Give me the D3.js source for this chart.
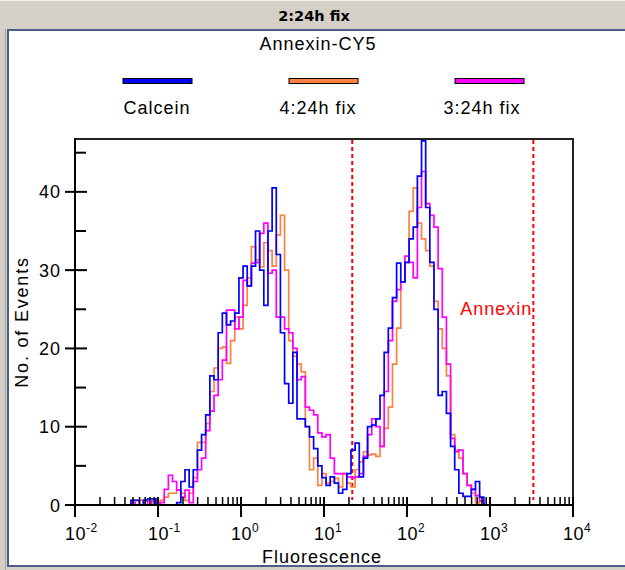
<!DOCTYPE html>
<html><head><meta charset="utf-8">
<script src="https://cdn.jsdelivr.net/npm/d3@7/dist/d3.min.js"></script>
<style>html,body{margin:0;padding:0;background:#d4d0c8;overflow:hidden}svg{display:block}</style>
</head><body><svg id="c" width="625" height="570"></svg>
<script>
// ---- data ----
const binExp = [-1.45,-1.40,-1.35,-1.30,-1.25,-1.20,-1.15,-1.10,-1.05,-1.00,
  -0.95,-0.90,-0.85,-0.80,-0.75,-0.70,-0.65,-0.60,-0.55,-0.50,
  -0.45,-0.40,-0.35,-0.30,-0.25,-0.20,-0.15,-0.10,-0.05,0.00,
  0.05,0.10,0.15,0.20,0.25,0.30,0.35,0.40,0.45,0.50,
  0.55,0.60,0.65,0.70,0.75,0.80,0.85,0.90,0.95,1.00,
  1.05,1.10,1.15,1.20,1.25,1.30,1.35,1.40,1.45,1.50,
  1.55,1.60,1.65,1.70,1.75,1.80,1.85,1.90,1.95,2.00,
  2.05,2.10,2.15,2.20,2.25,2.30,2.35,2.40,2.45,2.50,
  2.55,2.60,2.65,2.70,2.75,2.80,2.85,2.90,2.95];
const calcein = [0,0,0,0.6,0.6,0,0.6,0.8,0.8,0,
  0,0,0,0,0.3,3.0,4.5,2.3,4.5,7.0,
  9.0,11.5,16.5,16.0,22.0,24.5,23.0,23.5,24.5,29.0,
  30.5,28.0,30.5,35.0,30.0,25.5,35.0,40.5,32.0,22.0,
  15.5,13.0,19.5,11.0,11.0,10.0,8.7,7.2,5.0,3.5,
  2.5,3.6,2.8,1.5,2.0,4.0,7.0,7.9,3.6,6.0,
  10.0,10.2,11.0,14.0,19.5,22.6,26.5,30.9,28.5,31.0,
  34.0,35.5,42.0,46.5,38.0,31.0,25.0,14.0,14.5,11.7,
  7.5,4.5,1.5,1.1,1.1,2.0,3.0,1.0,0];
const fix4 = [0,0,0,0.6,0.6,0.6,0,0,0,0,
  0.6,1.0,1.5,1.5,1.9,1.5,0.6,1.5,3.5,8.0,
  8.0,10.4,14.5,17.5,20.0,20.2,18.1,21.0,24.0,22.5,
  25.5,29.0,33.0,31.3,30.4,33.5,32.5,30.5,34.5,37.0,
  30.0,21.0,19.0,18.0,17.0,10.0,4.5,6.0,2.5,4.0,
  2.8,3.0,3.4,2.3,4.0,2.8,2.3,4.5,5.5,6.8,
  6.4,6.5,6.2,7.5,9.8,12.5,18.0,22.6,28.5,31.0,
  37.5,40.5,36.0,34.0,32.5,30.5,26.0,22.5,20.0,16.5,
  9.0,7.0,6.0,4.0,2.5,1.5,0.3,0,0];
const fix3 = [0,0,0,0.3,0,0,0.6,0,0.6,0,
  0.3,2.0,3.8,3.0,1.9,1.0,1.9,0.3,3.0,4.5,
  6.0,9.5,12.0,14.0,16.0,18.5,24.9,24.9,22.5,24.0,
  28.7,28.0,30.9,31.0,34.7,36.0,29.6,30.0,24.0,24.0,
  22.5,22.0,20.0,16.0,16.4,12.5,12.1,11.5,9.2,8.7,
  9.0,6.0,4.0,4.0,4.0,3.6,3.5,3.6,4.0,6.2,
  9.0,11.0,10.0,7.5,14.5,21.0,26.0,27.5,28.5,31.8,
  31.0,29.0,38.0,42.6,38.5,37.0,35.5,30.2,24.0,18.0,
  8.5,6.8,7.0,4.0,2.5,2.0,1.2,0.5,0];
const seriesNames = ["Calcein", "4:24h fix", "3:24h fix"];
const seriesColors = ["#0000ff", "#ff8040", "#ff00ff"];
const gateBounds = [21.9, 3330];
const gateLabel = "Annexin";
const xDomain = [0.01, 10000];
const yDomain = [0, 46.75];
const xMajorExp = ["-2", "-1", "0", "1", "2", "3", "4"];
const yLabelTicks = [0, 10, 20, 30, 40];
const chartTitle = "2:24h fix";
const subTitle = "Annexin-CY5";
const xTitle = "Fluorescence";
const yTitle = "No. of Events";

// ---- drawing ----
const svg = d3.select("#c");
const FONT = "'Liberation Sans', Arial, sans-serif";

// window chrome
svg.append("rect").attr("x",0).attr("y",0).attr("width",625).attr("height",570).attr("fill","#d4d0c8");
svg.append("line").attr("x1",0).attr("x2",625).attr("y1",0.5).attr("y2",0.5).attr("stroke","#f2f1ec");
svg.append("line").attr("x1",5.5).attr("x2",5.5).attr("y1",29).attr("y2",570).attr("stroke","#a9a59d");
svg.append("rect").attr("x",8).attr("y",30).attr("width",640).attr("height",536)
  .attr("fill","#ffffff").attr("stroke","#4b5d88").attr("stroke-width",2);

svg.append("text").attr("x",314).attr("y",21).attr("text-anchor","middle")
  .attr("font-family","'DejaVu Sans', Verdana, sans-serif").attr("font-weight","bold")
  .attr("font-size",14.5).attr("fill","#000").text(chartTitle);

svg.append("text").attr("x",318).attr("y",50).attr("text-anchor","middle")
  .attr("font-family",FONT).attr("font-size",18).attr("letter-spacing",1).attr("fill","#000")
  .text(subTitle);

// legend
const legSwX = [123, 289, 455];
const legTxtX = [157, 318, 482];
seriesNames.forEach((n,i)=>{
  svg.append("rect").attr("x",legSwX[i]).attr("y",78.5).attr("width",69).attr("height",5)
    .attr("fill",seriesColors[i]).attr("stroke","#000").attr("stroke-width",1);
  svg.append("text").attr("x",legTxtX[i]).attr("y",114).attr("text-anchor","middle")
    .attr("font-family",FONT).attr("font-size",18).attr("letter-spacing",1).attr("fill","#000").text(n);
});

const x = d3.scaleLog().domain(xDomain).range([75, 573]);
const y = d3.scaleLinear().domain(yDomain).range([505, 139]);

// gates
gateBounds.forEach(g=>{
  svg.append("line").attr("x1",x(g)).attr("x2",x(g)).attr("y1",140).attr("y2",500)
    .attr("stroke","#ff0000").attr("stroke-width",2).attr("stroke-dasharray","4,3");
});
svg.append("text").attr("x",x(gateBounds[1]) - 1).attr("y",315).attr("text-anchor","end")
  .attr("font-family",FONT).attr("font-size",18).attr("letter-spacing",1).attr("fill","#ff0000").text(gateLabel);

// curves
const seriesData = [calcein, fix4, fix3];
const line = d3.line().x(d=>x(d[0])).y(d=>y(d[1])).curve(d3.curveStep);
const drawOrder = [1, 2, 0];
drawOrder.forEach(si=>{
  const pts = binExp.map((e,i)=>[Math.pow(10,e), seriesData[si][i]]);
  svg.append("path").attr("d", line(pts)).attr("fill","none")
    .attr("stroke",seriesColors[si]).attr("stroke-width",1.7).attr("stroke-linejoin","miter");
});

// frame & axes
const ax = svg.append("g").attr("stroke","#000").attr("stroke-width",2);
ax.append("line").attr("x1",75).attr("x2",574).attr("y1",139).attr("y2",139).attr("stroke","#222");
ax.append("line").attr("x1",573).attr("x2",573).attr("y1",139).attr("y2",506).attr("stroke","#222");
ax.append("line").attr("x1",75).attr("x2",75).attr("y1",138).attr("y2",506);
ax.append("line").attr("x1",74).attr("x2",574).attr("y1",505).attr("y2",505);

// x ticks
const xt = x.ticks();
xt.forEach(v=>{
  const lg = Math.log10(v);
  const major = Math.abs(lg - Math.round(lg)) < 1e-9;
  svg.append("line").attr("x1",x(v)).attr("x2",x(v))
    .attr("y1",497).attr("y2", major ? 517 : 505)
    .attr("stroke","#000").attr("stroke-width", major ? 2 : 1.5);
});
xMajorExp.forEach(ex=>{
  const v = Math.pow(10, +ex);
  const t = svg.append("text").attr("x",x(v)-10).attr("y",540)
    .attr("font-family",FONT).attr("font-size",18).attr("letter-spacing",0.5).attr("fill","#000");
  t.append("tspan").text("10");
  t.append("tspan").attr("dy",-8).attr("font-size",12).text(ex);
});

// y ticks
y.ticks(10).forEach(v=>{
  const major = v % 10 === 0;
  svg.append("line").attr("x1", major ? 65 : 76).attr("x2", major ? 87 : 86)
    .attr("y1",y(v)).attr("y2",y(v)).attr("stroke","#000").attr("stroke-width",2);
});
yLabelTicks.forEach(v=>{
  svg.append("text").attr("x",61).attr("y",y(v)+6.5).attr("text-anchor","end")
    .attr("font-family",FONT).attr("font-size",18).attr("letter-spacing",1).attr("fill","#000").text(v);
});

// axis titles
svg.append("text").attr("x",322).attr("y",563).attr("text-anchor","middle")
  .attr("font-family",FONT).attr("font-size",18).attr("letter-spacing",1).attr("fill","#000").text(xTitle);
svg.append("text").attr("transform","translate(28,322) rotate(-90)").attr("text-anchor","middle")
  .attr("font-family",FONT).attr("font-size",18).attr("letter-spacing",1.8).attr("fill","#000").text(yTitle);
</script></body></html>
